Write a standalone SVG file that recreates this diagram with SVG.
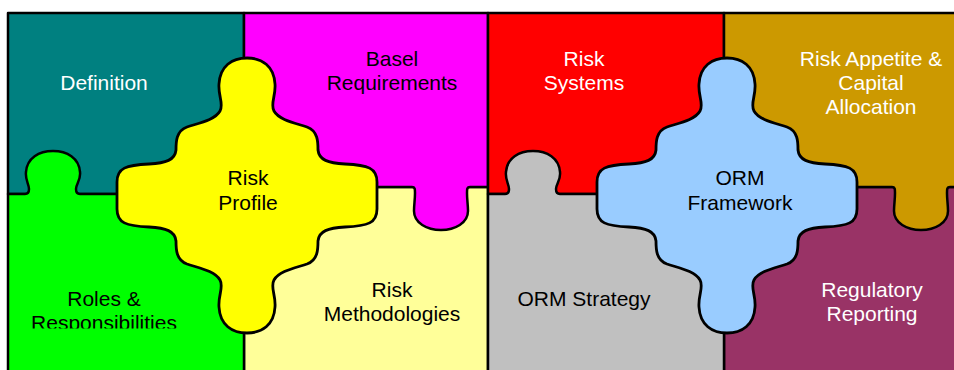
<svg xmlns="http://www.w3.org/2000/svg" width="954" height="370" viewBox="0 0 954 370">
  <defs>
    <style>
      .tile { stroke: #000; stroke-width: 2.5; stroke-linejoin: round; }
      .piece { stroke: #000; stroke-width: 2.8; stroke-linejoin: round; }
      text { font-family: "Liberation Sans", Arial, sans-serif; font-size: 21px; text-anchor: middle; }
      .w { fill: #fff; }
      .b { fill: #000; }
    </style>
    <path id="cross" d="M247,58 C262,58 274,66 275,84 C276,96 270,104 274,111 C279,120 295,123 307,127 C318,131 318,142 318,150 C319,160 328,163 345,164 C368,165 377,168 377,182 L377,209 C377,223 368,226 345,227 C328,228 319,231 318,241 C318,249 318,260 307,264 C295,268 279,271 274,280 C270,287 276,295 275,307 C274,325 262,333 247,333 C232,333 220,325 219,307 C218,295 224,287 220,280 C215,271 199,268 187,264 C176,260 176,249 176,241 C175,231 166,228 149,227 C126,226 117,223 117,209 L117,182 C117,168 126,165 149,164 C166,163 175,160 176,150 C176,142 176,131 187,127 C199,123 215,120 220,111 C224,104 218,96 219,84 C220,66 232,58 247,58 Z"/>
    <path id="upTile" d="M8,194 H25 C28,194 29,192 29,189 C29,184 25,180 26,172 C27,158 39,151 53,151 C67,151 79,158 80,172 C81,180 76,184 76,189 C76,192 77,194 80,194 H244 V380 H8 Z"/>
    <path id="downTile" d="M244,13 H488 V187 H470 C467,187 467,189 467,193 C467,200 468,205 468,211 C468,223 455,230 441,230 C427,230 414,223 414,211 C414,205 415,200 415,193 C415,189 415,187 412,187 H244 Z"/>
    <clipPath id="clipRoles">
      <rect x="0" y="0" width="244" height="328.5"/>
    </clipPath>
  </defs>

  <rect x="0" y="0" width="954" height="370" fill="#fff"/>

  <g id="definition">
    <rect class="tile" x="8" y="13" width="236" height="181" fill="#008080"/>
    <text class="w" x="104" y="90">Definition</text>
  </g>
  <g id="risk-methodologies">
    <rect class="tile" x="244" y="187" width="244" height="193" fill="#FFFF99"/>
    <text class="b" x="392" y="297">Risk</text>
    <text class="b" x="392" y="321">Methodologies</text>
  </g>
  <g id="basel-requirements">
    <use href="#downTile" class="tile" fill="#FF00FF"/>
    <text class="b" x="392" y="66">Basel</text>
    <text class="b" x="392" y="90">Requirements</text>
  </g>
  <g id="roles-responsibilities">
    <use href="#upTile" class="tile" fill="#00FF00"/>
    <g clip-path="url(#clipRoles)">
      <text class="b" x="104" y="306">Roles &amp;</text>
      <text class="b" x="104" y="330">Responsibilities</text>
    </g>
  </g>

  <g id="risk-systems">
    <rect class="tile" x="488" y="13" width="236" height="181" fill="#FF0000"/>
    <text class="w" x="584" y="66">Risk</text>
    <text class="w" x="584" y="90">Systems</text>
  </g>
  <g id="regulatory-reporting">
    <rect class="tile" x="724" y="187" width="244" height="193" fill="#993366"/>
    <text class="w" x="872" y="297">Regulatory</text>
    <text class="w" x="872" y="321">Reporting</text>
  </g>
  <g id="risk-appetite">
    <use href="#downTile" class="tile" fill="#CC9900" transform="translate(480,0)"/>
    <text class="w" x="871" y="66">Risk Appetite &amp;</text>
    <text class="w" x="871" y="90">Capital</text>
    <text class="w" x="871" y="114">Allocation</text>
  </g>
  <g id="orm-strategy">
    <use href="#upTile" class="tile" fill="#C0C0C0" transform="translate(480,0)"/>
    <text class="b" x="584" y="306">ORM Strategy</text>
  </g>

  <g id="risk-profile">
    <use href="#cross" class="piece" fill="#FFFF00"/>
    <text class="b" x="248" y="185">Risk</text>
    <text class="b" x="248" y="210">Profile</text>
  </g>
  <g id="orm-framework">
    <use href="#cross" class="piece" fill="#99CCFF" transform="translate(480,0)"/>
    <text class="b" x="740" y="185">ORM</text>
    <text class="b" x="740" y="210">Framework</text>
  </g>

  <g id="connectors"/>
</svg>
